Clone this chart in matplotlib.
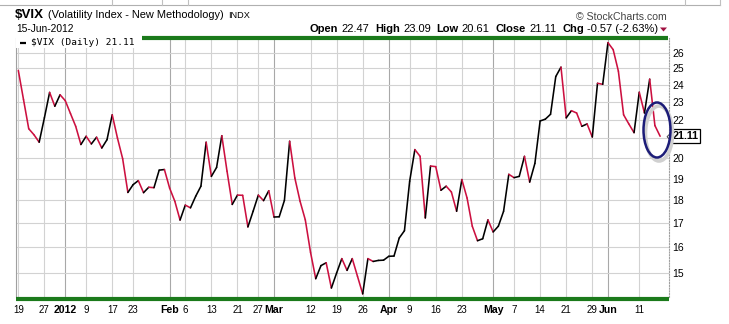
import numpy as np
import pandas as pd
import matplotlib
matplotlib.use('Agg')
import matplotlib.pyplot as plt
from matplotlib.collections import LineCollection
from matplotlib.patches import Ellipse, Rectangle, Polygon
from matplotlib.ticker import NullLocator, NullFormatter
import matplotlib.transforms as mtransforms

plt.rcParams['font.family'] = ['Liberation Sans', 'DejaVu Sans']

# ---------------- data ----------------
start_date = '2011-12-19'
end_date = '2012-06-15'
holidays = ['2011-12-26', '2012-01-02', '2012-01-16', '2012-02-20',
            '2012-04-06', '2012-05-28']

closes = [24.88, 23.13, 21.51, 21.19, 20.80, 22.10, 23.55, 22.75, 23.41, 23.07,
          22.34, 21.64, 20.68, 21.11, 20.71, 21.06, 20.50, 20.93, 22.27, 21.02,
          19.96, 18.35, 18.71, 18.90, 18.34, 18.59, 18.57, 19.40, 19.43, 18.55,
          17.95, 17.13, 17.78, 17.66, 18.18, 18.64, 20.80, 19.10, 19.53, 21.14,
          19.35, 17.81, 18.23, 18.22, 16.84, 17.51, 18.23, 17.98, 18.43, 17.26,
          17.27, 17.99, 20.85, 19.02, 17.95, 17.14, 15.81, 14.80, 15.29, 15.40,
          14.46, 15.01, 15.56, 15.11, 15.56, 14.89, 14.25, 15.56, 15.45, 15.49,
          15.50, 15.65, 15.66, 16.38, 16.68, 18.87, 20.42, 20.08, 17.22, 19.60,
          19.57, 18.45, 18.64, 18.37, 17.51, 18.95, 18.10, 16.87, 16.27, 16.35,
          17.14, 16.63, 16.87, 17.51, 19.20, 19.04, 19.10, 20.08, 18.83, 19.73,
          21.93, 22.03, 22.30, 24.50, 25.08, 22.10, 22.50, 22.37, 21.64, 21.77,
          21.07, 24.09, 24.03, 26.66, 26.20, 24.83, 22.27, 21.77, 21.30, 23.56,
          22.37, 24.34, 21.68, 21.11]

tick_dates = ['2011-12-19', '2011-12-27', '2012-01-03', '2012-01-09', '2012-01-17',
              '2012-01-23', '2012-02-01', '2012-02-06', '2012-02-13', '2012-02-21',
              '2012-02-27', '2012-03-01', '2012-03-12', '2012-03-19', '2012-03-26',
              '2012-04-02', '2012-04-09', '2012-04-16', '2012-04-23', '2012-05-01',
              '2012-05-07', '2012-05-14', '2012-05-21', '2012-05-29', '2012-06-01',
              '2012-06-11']
tick_labels = ['19', '27', '2012', '9', '17', '23', 'Feb', '6', '13', '21', '27',
               'Mar', '12', '19', '26', 'Apr', '9', '16', '23', 'May', '7', '14',
               '21', '29', 'Jun', '11']
y_ticks = [15, 16, 17, 18, 19, 20, 21, 22, 23, 24, 25, 26]

header_pieces = [('Open', True), ('22.47', False), ('High', True), ('23.09', False),
                 ('Low', True), ('20.61', False), ('Close', True), ('21.11', False),
                 ('Chg', True), ('-0.57 (-2.63%)', False)]
last_close = closes[-1]

# ---------------- build ----------------
days = pd.bdate_range(start_date, end_date)
days = days[~days.isin(pd.to_datetime(holidays))]
x = np.arange(len(days))
y = np.array(closes)
tick_pos = [int(np.where(days == pd.Timestamp(d))[0][0]) for d in tick_dates]

W, H = 729, 324
fig = plt.figure(figsize=(W / 100, H / 100), dpi=100)
fig.patch.set_facecolor('white')

ax = fig.add_axes([16 / W, 1 - 297 / H, (669 - 16) / W, (297 - 38) / H])
ax.set_yscale('log')
ax.set_ylim(14.14, 26.97)
ax.set_xlim(-0.44, 124.7)

RED = '#cc1040'
pts = np.column_stack([x, y])
segs = [pts[i:i + 2] for i in range(len(pts) - 1)]
cols = [RED if y[i + 1] < y[i] else 'black' for i in range(len(y) - 1)]
lc = LineCollection(segs, colors=cols, linewidths=1.15, zorder=3,
                    capstyle='round', joinstyle='round')
ax.add_collection(lc)

# y axis (right, log)
ax.yaxis.tick_right()
ax.set_yticks(y_ticks)
ax.set_yticklabels(['' if v == 21 else str(v) for v in y_ticks])
ax.yaxis.set_minor_locator(NullLocator())
ax.yaxis.set_minor_formatter(NullFormatter())
ax.tick_params(axis='y', length=0, pad=2.2, labelsize=7.5, colors='black')

# x axis
ax.set_xticks(tick_pos)
ax.set_xticklabels(tick_labels)
ax.tick_params(axis='x', length=0, pad=5.5, labelsize=7)
for lab in ax.get_xticklabels():
    if not lab.get_text().isdigit() or lab.get_text() == '2012':
        lab.set_fontweight('bold')
        lab.set_fontsize(7.6)

ax.grid(True, color='#d2d2d2', linewidth=0.8, zorder=0)
for tk, lab in zip(ax.xaxis.get_major_ticks(), tick_labels):
    if not lab.isdigit() or lab == '2012':
        tk.gridline.set_color('#a8a8a8')

for s in ['top', 'bottom']:
    ax.spines[s].set_visible(False)
ax.spines['left'].set_color('#a0a0a0')
ax.spines['right'].set_color('#a0a0a0')
ax.spines['right'].set_linestyle((0, (1, 1.5)))
ax.spines['right'].set_linewidth(0.8)

# last value box
trans = mtransforms.blended_transform_factory(ax.transAxes, ax.transData) + \
    mtransforms.ScaledTranslation(3.5 / 100, 0, fig.dpi_scale_trans)
ax.text(1.0, last_close, '%.2f' % last_close, transform=trans, ha='left',
        va='center', fontsize=7.8, fontweight='bold', color='black',
        bbox=dict(boxstyle='square,pad=0.18', fc='white', ec='black', lw=0.9),
        zorder=6, clip_on=False)

# ---------------- overlay (pixel coordinates) ----------------
ov = fig.add_axes([0, 0, 1, 1], zorder=5)
ov.set_xlim(0, W)
ov.set_ylim(H, 0)
ov.axis('off')
ov.patch.set_alpha(0)

GREEN = '#1b7a1b'
ov.plot([142, 668], [38, 38], color=GREEN, lw=3.0, solid_capstyle='butt')
ov.plot([16, 669], [298.5, 298.5], color=GREEN, lw=3.0, solid_capstyle='butt')

# UI frame bits at top
ov.plot([0, 720], [4.5, 4.5], color='#b0b0b0', lw=0.8)
for xv in [112, 162, 188, 685, 720]:
    ov.plot([xv, xv], [0, 4.5], color='#c0c0c0', lw=0.8)

# legend box
ov.add_patch(Rectangle((16.5, 36), 124, 12, fc='white', ec='none'))
ov.plot([20, 26], [42.5, 42.5], color='black', lw=1.6, solid_capstyle='butt')
ov.text(31, 42.8, '$VIX (Daily) %.2f' % last_close, fontsize=6.8,
        family='DejaVu Sans Mono', va='center', ha='left', parse_math=False)

# pointer for the value box
ov.add_patch(Polygon([[667, 136.7], [670.5, 133.2], [670.5, 140.2]], closed=True,
                     fc='white', ec='#333333', lw=0.6, zorder=1))

# ellipse highlight
ov.add_patch(Ellipse((659, 133.5), 27, 55, fill=False, ec='#d0d0d0', lw=2.6))
ov.add_patch(Ellipse((657, 130), 27, 55, fill=False, ec='#1c1c78', lw=1.8))

# titles
ov.text(15, 15, '$VIX', fontsize=9.6, fontweight='bold', va='center',
        ha='left', parse_math=False)
ov.text(48, 15.5, '(Volatility Index - New Methodology)', fontsize=7.9,
        va='center', ha='left')
ov.text(228, 15.5, 'INDX', fontsize=6.6, va='center', ha='left')
ov.text(16, 29.5, days[-1].strftime('%d-%b-%Y'), fontsize=7.4, va='center', ha='left')
ov.text(667, 16.5, '\u00a9 StockCharts.com', fontsize=7.6, color='#444444',
        va='center', ha='right')

renderer = fig.canvas.get_renderer()
objs = []
for txt, bold in header_pieces:
    objs.append(ov.text(0, 29.5, txt, fontsize=8.0,
                        fontweight='bold' if bold else 'normal',
                        va='center', ha='left'))
widths = [o.get_window_extent(renderer).width for o in objs]
gaps = [3 if header_pieces[i][1] else 6 for i in range(len(objs) - 1)]
total = sum(widths) + sum(gaps)
xx = 658 - total
for i, o in enumerate(objs):
    o.set_x(xx)
    xx += widths[i] + (gaps[i] if i < len(gaps) else 0)
ov.add_patch(Polygon([[660, 27.5], [667, 27.5], [663.5, 31.5]], closed=True,
                     fc='#a01040', ec='none'))

fig.savefig('out.png', dpi=100, facecolor='white')
